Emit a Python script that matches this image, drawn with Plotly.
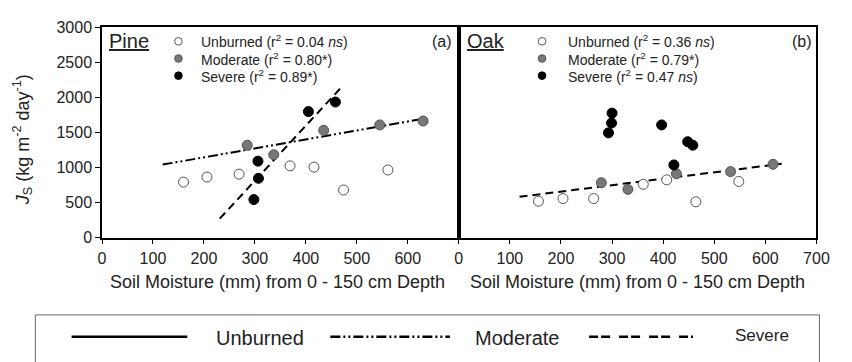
import numpy as np
import plotly.graph_objects as go

# ---------------- data ----------------
pine_unb_x = [160, 206, 269, 369, 416, 474, 561]
pine_unb_y = [792, 864, 905, 1023, 1005, 679, 964]
pine_mod_x = [285, 337, 435, 545, 630]
pine_mod_y = [1317, 1181, 1529, 1606, 1661]
pine_sev_x = [298, 306, 307, 405, 458]
pine_sev_y = [543, 1090, 846, 1796, 1932]

oak_unb_x = [156, 204, 264, 361, 407, 464, 548]
oak_unb_y = [520, 557, 557, 760, 824, 511, 801]
oak_mod_x = [279, 331, 426, 532, 615]
oak_mod_y = [783, 688, 910, 941, 1045]
oak_sev_x = [293, 299, 300, 397, 421, 448, 458]
oak_sev_y = [1493, 1633, 1774, 1606, 1036, 1367, 1317]

# extents of the drawn regression lines
pine_mod_fit_range = [119, 642]
pine_sev_fit_range = [231, 468]
oak_mod_fit_range = [119, 632]

x_ticks_left = [0, 100, 200, 300, 400, 500, 600]
x_ticks_right = [0, 100, 200, 300, 400, 500, 600, 700]
y_ticks = [0, 500, 1000, 1500, 2000, 2500, 3000]

pine_legend = ["Unburned (r<sup>2</sup> = 0.04 <i>ns</i>)",
               "Moderate (r<sup>2</sup> = 0.80*)",
               "Severe (r<sup>2</sup> = 0.89*)"]
oak_legend = ["Unburned (r<sup>2</sup> = 0.36 <i>ns</i>)",
              "Moderate (r<sup>2</sup> = 0.79*)",
              "Severe (r<sup>2</sup> = 0.47 <i>ns</i>)"]

# ---------------- styling ----------------
W, H = 852, 362
FONT = "Liberation Sans, Arial, sans-serif"
TXT = "#222222"

def px_x(p):
    return p / W

def px_y(p):
    return 1 - p / H

xl0, xl1, xr1 = 100, 464, 829
yt, yb = 20, 241

styles = {
    "unb": dict(color="white", line=dict(color="#555555", width=1)),
    "mod": dict(color="#777777", line=dict(color="#555555", width=1)),
    "sev": dict(color="#000000", line=dict(color="#000000", width=1)),
}

fig = go.Figure()

def add_pts(x, y, key, xa, ya):
    fig.add_trace(go.Scatter(x=x, y=y, mode="markers", xaxis=xa, yaxis=ya,
                             marker=dict(size=10, **styles[key]),
                             showlegend=False, hoverinfo="skip"))

def add_fit(x, y, rng, dash, xa, ya):
    k, b = np.polyfit(x, y, 1)
    xs = np.array(rng, dtype=float)
    fig.add_trace(go.Scatter(x=xs, y=k * xs + b, mode="lines", xaxis=xa, yaxis=ya,
                             line=dict(color="black", width=2, dash=dash),
                             showlegend=False, hoverinfo="skip"))

DASHDOTDOT = "10px,3px,2px,3px,2px,3px"
DASH = "8px,5px"
LEG_DASH = "9px,3px,9px,9px"

add_fit(pine_mod_x, pine_mod_y, pine_mod_fit_range, DASHDOTDOT, "x", "y")
add_fit(pine_sev_x, pine_sev_y, pine_sev_fit_range, DASH, "x", "y")
add_pts(pine_unb_x, pine_unb_y, "unb", "x", "y")
add_pts(pine_mod_x, pine_mod_y, "mod", "x", "y")
add_pts(pine_sev_x, pine_sev_y, "sev", "x", "y")

add_fit(oak_mod_x, oak_mod_y, oak_mod_fit_range, DASH, "x2", "y2")
add_pts(oak_unb_x, oak_unb_y, "unb", "x2", "y2")
add_pts(oak_mod_x, oak_mod_y, "mod", "x2", "y2")
add_pts(oak_sev_x, oak_sev_y, "sev", "x2", "y2")

axis_common = dict(showline=True, linecolor="black", linewidth=1.5, mirror=True,
                   showgrid=False, zeroline=False, ticks="outside", ticklen=5,
                   tickcolor="black", tickfont=dict(family=FONT, size=16, color=TXT))

fig.update_layout(
    width=W, height=H, margin=dict(l=0, r=0, t=0, b=0),
    paper_bgcolor="white", plot_bgcolor="white",
    xaxis=dict(domain=[px_x(xl0), px_x(xl1)], range=[0, 700], tickvals=x_ticks_left,
               anchor="y", **axis_common),
    yaxis=dict(domain=[px_y(yb), px_y(yt)], range=[0, 3000], tickvals=y_ticks,
               anchor="x", **axis_common),
    xaxis2=dict(domain=[px_x(xl1), px_x(xr1)], range=[0, 700], tickvals=x_ticks_right,
                anchor="y2", **axis_common),
    yaxis2=dict(domain=[px_y(yb), px_y(yt)], range=[0, 3000], tickvals=y_ticks,
                anchor="x2", **{**axis_common, "ticks": "", "showticklabels": False}),
)

ann = []
shapes = []

def text(x, y, s, size=14, xanchor="left", yanchor="middle", **kw):
    ann.append(dict(x=px_x(x), y=px_y(y), xref="paper", yref="paper", text=s,
                    showarrow=False, xanchor=xanchor, yanchor=yanchor,
                    font=dict(family=FONT, size=size, color=TXT), **kw))

def circle(cx, cy, key, r=3.8):
    st = styles[key]
    shapes.append(dict(type="circle", xref="paper", yref="paper",
                       xsizemode="pixel", ysizemode="pixel",
                       xanchor=px_x(cx), yanchor=px_y(cy),
                       x0=-r, x1=r, y0=-r, y1=r,
                       fillcolor=st["color"], line=dict(color=st["line"]["color"], width=1)))

# panel titles
text(105, 35, "<u>Pine</u>", size=20)
text(470, 35, "<u>Oak</u>", size=20)
text(459, 35, "(a)", size=16, xanchor="right")
text(826, 35, "(b)", size=16, xanchor="right")

keys = ["unb", "mod", "sev"]
rows = [35, 53, 71]
for i in range(3):
    circle(178, rows[i], keys[i])
    text(199, rows[i], pine_legend[i])
    circle(549, rows[i], keys[i])
    text(573, rows[i], oak_legend[i])

# axis titles
text(279, 288, "Soil Moisture (mm) from 0 - 150 cm Depth", size=18, xanchor="center")
text(646, 288, "Soil Moisture (mm) from 0 - 150 cm Depth", size=18, xanchor="center")
ann.append(dict(x=px_x(19), y=px_y(138), xref="paper", yref="paper",
                text="<i>J</i><sub>S</sub> (kg m<sup>-2</sup> day<sup>-1</sup>)",
                showarrow=False, textangle=-90, xanchor="center", yanchor="middle",
                font=dict(family=FONT, size=18, color=TXT)))

# bottom legend box
shapes.append(dict(type="rect", xref="paper", yref="paper",
                   x0=px_x(32), x1=px_x(832), y0=px_y(380), y1=px_y(322),
                   line=dict(color="#666666", width=1), fillcolor="rgba(0,0,0,0)"))
leg_y = 345
for (a, b), dash in [((69, 187), "solid"), ((333, 455), DASHDOTDOT), ((597, 703), LEG_DASH)]:
    shapes.append(dict(type="line", xref="paper", yref="paper",
                       x0=px_x(a), x1=px_x(b), y0=px_y(leg_y), y1=px_y(leg_y),
                       line=dict(color="black", width=2.5, dash=dash)))
text(214, leg_y + 1, "Unburned", size=20)
text(479, leg_y + 1, "Moderate", size=20)
text(744, leg_y - 1, "Severe", size=17)

fig.update_layout(annotations=ann, shapes=shapes)
fig.write_html("out.html")
